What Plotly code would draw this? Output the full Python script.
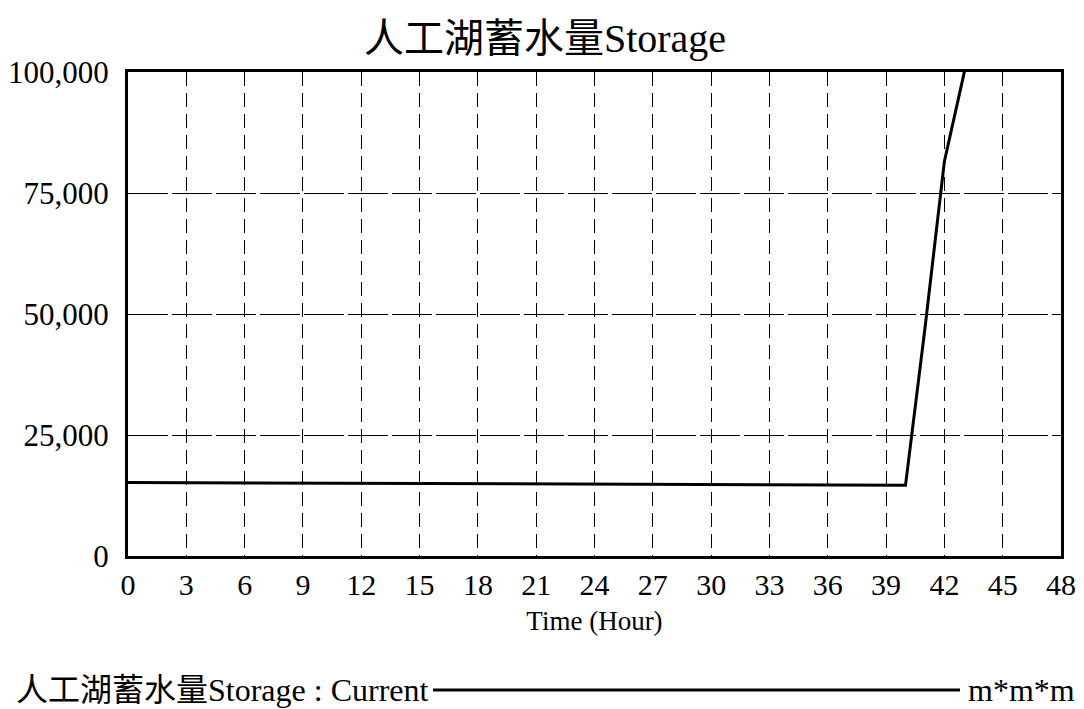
import plotly.graph_objects as go

# Data
time_hours = [0, 20, 40, 41, 42, 43, 44]
storage = [15200, 14900, 14600, 47000, 81500, 99500, 119000]

x_ticks = list(range(0, 49, 3))
y_ticks = [0, 25000, 50000, 75000, 100000]
y_tick_labels = ["0", "25,000", "50,000", "75,000", "100,000"]

title_text = "人工湖蓄水量Storage"
x_title = "Time (Hour)"
legend_label = "人工湖蓄水量Storage : Current"
unit_label = "m*m*m"

FONT = "Liberation Serif, Times New Roman, Noto Sans CJK SC, serif"

# page body has an 8px default margin; work in page pixels and offset
OFF = 8
W, H = 1084 - OFF, 709 - OFF
L, R = 128 - OFF, 23
T, B = 72 - OFF, 709 - 556
PW = W - L - R
PH = H - T - B


def px_x(p):
    return (p - OFF - L) / PW


def px_y(p):
    return 1 - (p - OFF - T) / PH


fig = go.Figure()
fig.add_trace(go.Scatter(
    x=time_hours, y=storage, mode="lines",
    line=dict(color="black", width=3),
    showlegend=False, cliponaxis=True,
))

fig.update_layout(
    width=W, height=H,
    margin=dict(l=L, r=R, t=T, b=B, autoexpand=False),
    paper_bgcolor="white", plot_bgcolor="white",
    font=dict(family=FONT, color="black", size=28),
    title=dict(text=title_text, x=(545 - OFF) / W, xanchor="center", y=1 - (38 - OFF) / H,
               yanchor="middle", yref="container",
               font=dict(family=FONT, size=40, color="black")),
    showlegend=False,
)

fig.update_xaxes(
    range=[0, 48], tickvals=x_ticks, ticktext=[str(v) for v in x_ticks],
    showgrid=True, gridcolor="black", gridwidth=1, griddash="14px,7px",
    showline=True, linecolor="black", linewidth=3, mirror=True,
    ticks="", zeroline=False, automargin=False,
    tickfont=dict(family=FONT, size=30),
    title=dict(text=x_title, font=dict(family=FONT, size=27), standoff=12),
)
fig.update_yaxes(
    range=[0, 100000], tickvals=y_ticks, ticktext=y_tick_labels,
    showgrid=True, gridcolor="black", gridwidth=1, griddash="40px,4px",
    showline=True, linecolor="black", linewidth=3, mirror=True,
    ticks="", zeroline=False, automargin=False, ticklabelstandoff=10,
    tickfont=dict(family=FONT, size=31),
)

legend_y = px_y(690)

# Legend row at bottom (Vensim style)
fig.add_annotation(text=legend_label, xref="paper", yref="paper",
                   x=px_x(431), y=legend_y, xanchor="right", yanchor="middle",
                   showarrow=False, font=dict(family=FONT, size=32))
fig.add_shape(type="line", xref="paper", yref="paper",
              x0=px_x(433), x1=px_x(960), y0=legend_y, y1=legend_y,
              line=dict(color="black", width=3))
fig.add_annotation(text=unit_label, xref="paper", yref="paper",
                   x=px_x(966), y=legend_y, xanchor="left", yanchor="middle",
                   showarrow=False, font=dict(family=FONT, size=32))

fig.write_html("out.html")
